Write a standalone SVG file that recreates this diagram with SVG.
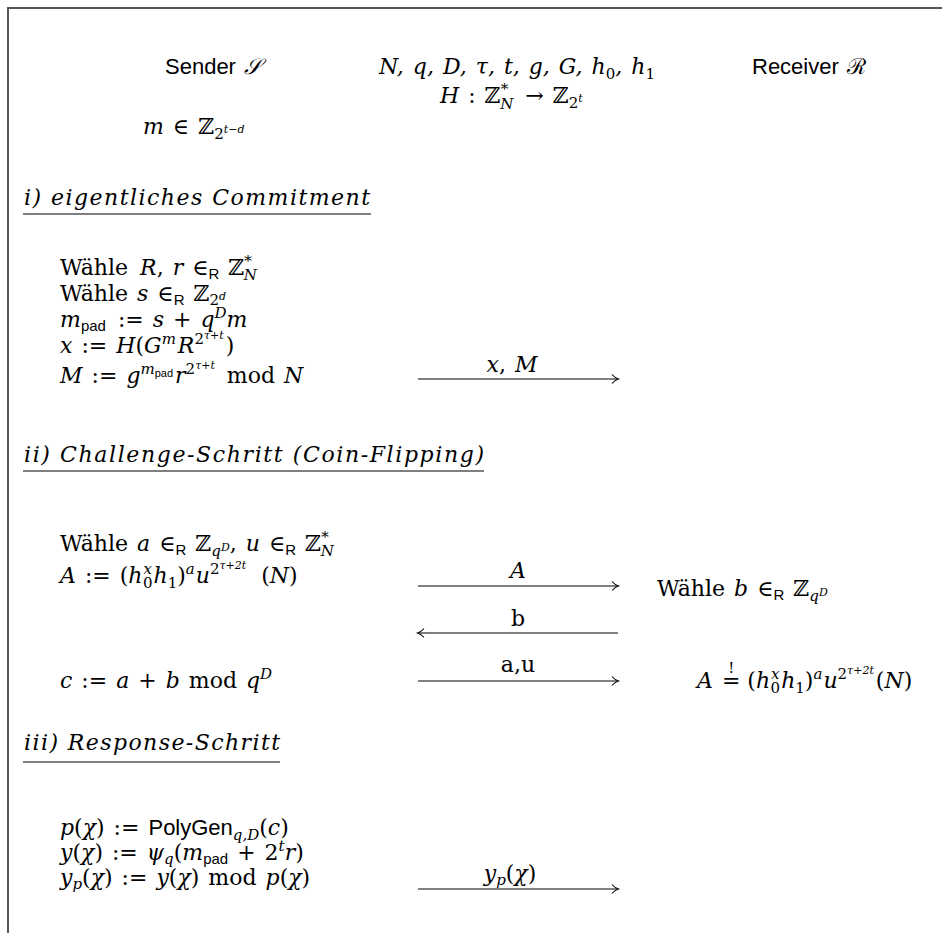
<svg xmlns="http://www.w3.org/2000/svg" width="942" height="933" viewBox="0 0 942 933">
<defs>
<style>
.t{font-family:"DejaVu Serif",serif;font-size:22px;fill:#000;word-spacing:2px}
.i{font-style:italic}
.n{font-style:normal}
.sf{font-family:"Liberation Sans","DejaVu Sans",sans-serif;font-style:normal}
.bb{font-family:"DejaVu Serif",serif;font-style:normal}
.s1{font-size:15px}
.s2{font-size:11px}
.hd{font-family:"DejaVu Serif",serif;font-size:22px;font-style:italic;fill:#000}
.ul{stroke:#000;stroke-width:1.2}
.ar{stroke:#000;stroke-width:1.2;fill:none;marker-end:url(#ah)}
.frame{stroke:#555;stroke-width:2;fill:none}
</style>
<marker id="ah" markerWidth="12" markerHeight="12" refX="9" refY="6" orient="auto" markerUnits="userSpaceOnUse">
<path d="M3,1.5 Q6,5 9.5,6 Q6,7 3,10.5" fill="none" stroke="#000" stroke-width="1.1"/>
</marker>
</defs>
<rect width="942" height="933" fill="#fff"/>
<path class="frame" d="M8,933 V8 H942"/>

<g id="header">
<text x="165" y="74" class="t sf" font-size="21">Sender <tspan class="i" font-family="Liberation Serif,serif">𝒮</tspan></text>
<text x="752" y="74" class="t sf" font-size="21">Receiver <tspan font-family="DejaVu Serif,serif">ℛ</tspan></text>
<text x="517" y="74" class="t i" text-anchor="middle">N, q, D, τ, t, g, G, h<tspan class="n s1" dy="5">0</tspan><tspan dy="-5">, h</tspan><tspan class="n s1" dy="5">1</tspan></text>
<text x="440" y="103" class="t"><tspan class="i">H</tspan> : <tspan class="bb">ℤ</tspan><tspan class="s1" dy="-9">*</tspan><tspan class="s1 i" dx="-8" dy="15">N</tspan><tspan dy="-6" dx="3"> → </tspan><tspan class="bb">ℤ</tspan><tspan class="s1" dy="5">2</tspan><tspan class="s2 i" dy="-6">t</tspan></text>
<text x="143" y="134" class="t"><tspan class="i">m</tspan> ∈ <tspan class="bb">ℤ</tspan><tspan class="s1" dy="5">2</tspan><tspan class="s2 i" dy="-6">t−d</tspan></text>
</g>

<g id="step1">
<text x="24" y="205" class="hd" textLength="346" lengthAdjust="spacing">i) eigentliches Commitment</text>
<line class="ul" x1="23" y1="214" x2="371" y2="214"/>
<text x="60" y="275" class="t">Wähle <tspan class="i" dx="3">R</tspan>, <tspan class="i">r</tspan> ∈<tspan class="sf s1" dy="4">R</tspan><tspan dy="-4"> </tspan><tspan class="bb">ℤ</tspan><tspan class="s1" dy="-9">*</tspan><tspan class="s1 i" dx="-8" dy="14">N</tspan></text>
<text x="60" y="301" class="t">Wähle <tspan class="i">s</tspan> ∈<tspan class="sf s1" dy="4">R</tspan><tspan dy="-4"> </tspan><tspan class="bb">ℤ</tspan><tspan class="s1" dy="4">2</tspan><tspan class="s2 i" dy="-5">d</tspan></text>
<text x="60" y="327" class="t"><tspan class="i">m</tspan><tspan class="sf s1" dy="4">pad</tspan><tspan dy="-4" dx="3"> := </tspan><tspan class="i">s</tspan> + <tspan class="i">q</tspan><tspan class="s1 i" dy="-9">D</tspan><tspan class="i" dy="9">m</tspan></text>
<text x="60" y="353" class="t"><tspan class="i">x</tspan> := <tspan class="i">H</tspan>(<tspan class="i">G</tspan><tspan class="s1 i" dy="-9">m</tspan><tspan class="i" dy="9" dx="2">R</tspan><tspan class="s1" dy="-9">2</tspan><tspan class="s2 i" dy="-5">τ+t</tspan><tspan dy="14" dx="2">)</tspan></text>
<text x="60" y="383" class="t"><tspan class="i">M</tspan> := <tspan class="i">g</tspan><tspan class="s1 i" dy="-9">m</tspan><tspan class="sf s2" dy="3">pad</tspan><tspan class="i" dy="6" dx="2">r</tspan><tspan class="s1" dy="-9">2</tspan><tspan class="s2 i" dy="-5">τ+t</tspan><tspan dy="14" dx="3"> mod </tspan><tspan class="i">N</tspan></text>
</g>

<g id="step2">
<text x="24" y="462" class="hd" textLength="460" lengthAdjust="spacing">ii) Challenge-Schritt (Coin-Flipping)</text>
<line class="ul" x1="23" y1="471" x2="484" y2="471"/>
<text x="60" y="551" class="t">Wähle <tspan class="i">a</tspan> ∈<tspan class="sf s1" dy="4">R</tspan><tspan dy="-4"> </tspan><tspan class="bb">ℤ</tspan><tspan class="s1 i" dy="5">q</tspan><tspan class="s2 i" dy="-5">D</tspan><tspan dy="0">, </tspan><tspan class="i">u</tspan> ∈<tspan class="sf s1" dy="4">R</tspan><tspan dy="-4"> </tspan><tspan class="bb">ℤ</tspan><tspan class="s1" dy="-9">*</tspan><tspan class="s1 i" dx="-8" dy="14">N</tspan></text>
<text x="60" y="583" class="t"><tspan class="i">A</tspan> := (<tspan class="i">h</tspan><tspan class="s1 i" dx="1" dy="-9">x</tspan><tspan class="s1" dx="-9" dy="14">0</tspan><tspan class="i" dy="-5" dx="1">h</tspan><tspan class="s1" dy="5">1</tspan><tspan dy="-5">)</tspan><tspan class="s1 i" dy="-9">a</tspan><tspan class="i" dy="9" dx="1">u</tspan><tspan class="s1" dy="-9">2</tspan><tspan class="s2 i" dy="-5">τ+2t</tspan><tspan dy="14" dx="6">  (</tspan><tspan class="i">N</tspan>)</text>
<text x="657" y="596" class="t">Wähle <tspan class="i">b</tspan> ∈<tspan class="sf s1" dy="4">R</tspan><tspan dy="-4"> </tspan><tspan class="bb">ℤ</tspan><tspan class="s1 i" dy="5">q</tspan><tspan class="s2 i" dy="-5">D</tspan></text>
<text x="60" y="688" class="t"><tspan class="i">c</tspan> := <tspan class="i">a</tspan> + <tspan class="i">b</tspan> mod <tspan class="i">q</tspan><tspan class="s1 i" dy="-9">D</tspan></text>
<text x="697" y="688" class="t"><tspan class="i">A</tspan> <tspan>=</tspan><tspan class="s1" dx="-12" dy="-15">!</tspan><tspan dx="4" dy="15"> (</tspan><tspan class="i">h</tspan><tspan class="s1 i" dx="1" dy="-9">x</tspan><tspan class="s1" dx="-9" dy="14">0</tspan><tspan class="i" dy="-5" dx="1">h</tspan><tspan class="s1" dy="5">1</tspan><tspan dy="-5">)</tspan><tspan class="s1 i" dy="-9">a</tspan><tspan class="i" dy="9" dx="1">u</tspan><tspan class="s1" dy="-9">2</tspan><tspan class="s2 i" dy="-5">τ+2t</tspan><tspan dy="14" dx="2">(</tspan><tspan class="i">N</tspan>)</text>
</g>

<g id="step3">
<text x="24" y="750" class="hd" textLength="256" lengthAdjust="spacing">iii) Response-Schritt</text>
<line class="ul" x1="23" y1="762" x2="280" y2="762"/>
<text x="60" y="835" class="t"><tspan class="i">p</tspan>(<tspan class="i">χ</tspan>) := <tspan class="sf">PolyGen</tspan><tspan class="s1 i" dy="5">q,D</tspan><tspan dy="-5">(</tspan><tspan class="i">c</tspan>)</text>
<text x="60" y="860" class="t"><tspan class="i">y</tspan>(<tspan class="i">χ</tspan>) := <tspan class="i">ψ</tspan><tspan class="s1 i" dy="4">q</tspan><tspan dy="-4">(</tspan><tspan class="i">m</tspan><tspan class="sf s1" dy="4">pad</tspan><tspan dy="-4"> + 2</tspan><tspan class="s1 i" dy="-9">t</tspan><tspan class="i" dy="9">r</tspan>)</text>
<text x="60" y="885" class="t"><tspan class="i">y</tspan><tspan class="s1 i" dy="4">p</tspan><tspan dy="-4">(</tspan><tspan class="i">χ</tspan>) := <tspan class="i">y</tspan>(<tspan class="i">χ</tspan>) mod <tspan class="i">p</tspan>(<tspan class="i">χ</tspan>)</text>
</g>

<g id="connectors">
<line class="ar" x1="418" y1="379" x2="618" y2="379"/>
<text x="512" y="372" class="t" text-anchor="middle"><tspan class="i">x</tspan>, <tspan class="i">M</tspan></text>
<line class="ar" x1="418" y1="586" x2="618" y2="586"/>
<text x="518" y="578" class="t i" text-anchor="middle">A</text>
<line class="ar" x1="618" y1="633" x2="418" y2="633"/>
<text x="518" y="626" class="t" text-anchor="middle">b</text>
<line class="ar" x1="418" y1="681" x2="618" y2="681"/>
<text x="518" y="672" class="t" text-anchor="middle">a,u</text>
<line class="ar" x1="418" y1="889" x2="618" y2="889"/>
<text x="510" y="881" class="t" text-anchor="middle"><tspan class="i">y</tspan><tspan class="s1 i" dy="4">p</tspan><tspan dy="-4">(</tspan><tspan class="i">χ</tspan>)</text>
</g>
</svg>
